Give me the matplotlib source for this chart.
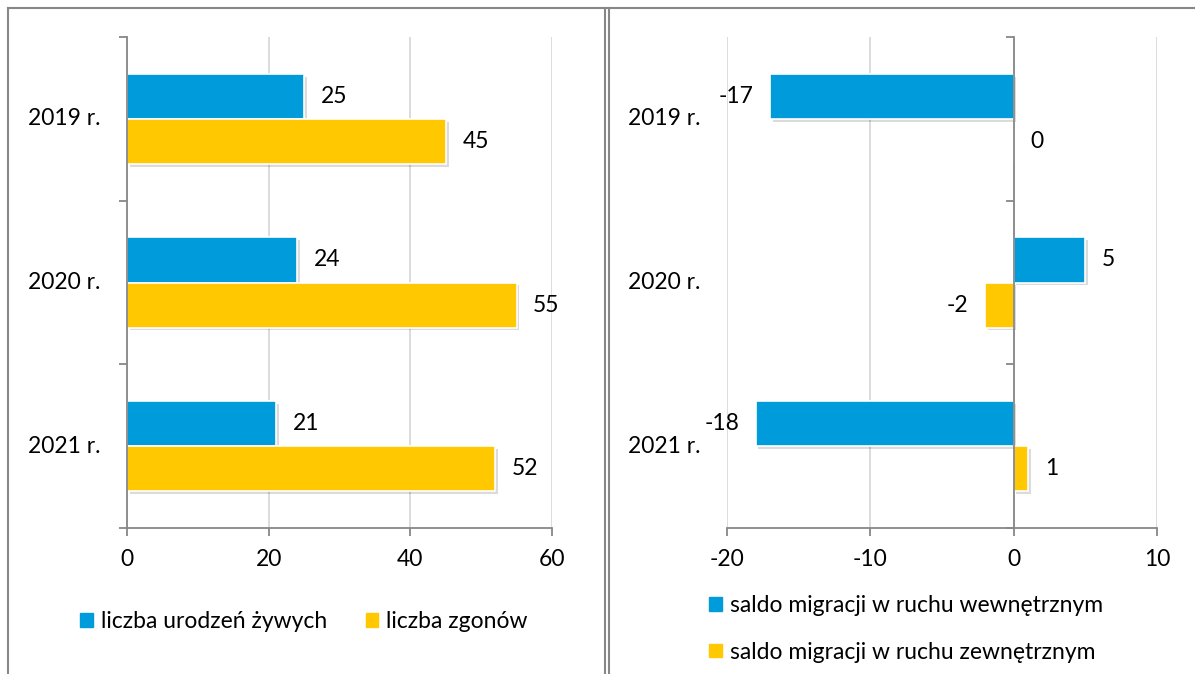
import matplotlib.pyplot as plt
import matplotlib.patheffects as pe
from matplotlib.patches import Patch
from matplotlib.lines import Line2D
from matplotlib.transforms import blended_transform_factory, offset_copy

plt.rcParams.update({
    "font.family": ["Lato", "DejaVu Sans"],
    "font.size": 16.5,
})

years = ["2019 r.", "2020 r.", "2021 r."]
births = [25, 24, 21]
deaths = [45, 55, 52]
mig_internal = [-17, 5, -18]
mig_external = [0, -2, 1]

left_labels = ["liczba urodzeń żywych", "liczba zgonów"]
right_labels = ["saldo migracji w ruchu wewnętrznym",
                "saldo migracji w ruchu zewnętrznym"]

BLUE = "#009BDB"
YELLOW = "#FFC800"
AXIS = "#878787"
GRID = "#D9D9D9"

W, H = 1195, 674
fig = plt.figure(figsize=(W / 100, H / 100), dpi=100)

shadow = [pe.SimplePatchShadow(offset=(2, -2), shadow_rgbFace="#000000", alpha=0.14),
          pe.Normal()]
bar_h = 0.275
pos = list(range(len(years)))


def frame(ax, xlim, xticks):
    ax.set_xlim(*xlim)
    ax.set_ylim(2.5, -0.5)
    ax.set_xticks(xticks)
    ax.set_xticklabels([f"{t:g}" for t in xticks])
    ax.set_yticks([-0.5, 0.5, 1.5, 2.5])
    ax.set_yticklabels([])
    for s in ["top", "right"]:
        ax.spines[s].set_visible(False)
    for s in ["left", "bottom"]:
        ax.spines[s].set_color(AXIS)
        ax.spines[s].set_linewidth(1.3)
    ax.tick_params(axis="both", color=AXIS, width=1.3, length=6, direction="out")
    ax.tick_params(axis="x", pad=9)
    ax.grid(axis="x", color=GRID, linewidth=1.3)
    ax.set_axisbelow(True)


def bars(ax, v1, v2):
    b1 = ax.barh([p - bar_h / 2 for p in pos], v1, height=bar_h, color=BLUE,
                 edgecolor="white", linewidth=1.2, zorder=2)
    b2 = ax.barh([p + bar_h / 2 for p in pos], v2, height=bar_h, color=YELLOW,
                 edgecolor="white", linewidth=1.2, zorder=2)
    for b in list(b1) + list(b2):
        b.set_path_effects(shadow)
    for p, v in zip(pos, v1):
        ax.annotate(f"{v}", (v, p - bar_h / 2), xytext=(12 if v >= 0 else -12, 0),
                    textcoords="offset points", va="center",
                    ha="left" if v >= 0 else "right")
    for p, v in zip(pos, v2):
        ax.annotate(f"{v}", (v, p + bar_h / 2), xytext=(12 if v >= 0 else -12, 0),
                    textcoords="offset points", va="center",
                    ha="left" if v >= 0 else "right")


# left panel
ax1 = fig.add_axes([127 / W, 1 - 528 / H, 425 / W, 491 / H])
frame(ax1, (0, 60), [0, 20, 40, 60])
bars(ax1, births, deaths)
tr1 = blended_transform_factory(ax1.transAxes, ax1.transData)
for p, y in zip(pos, years):
    ax1.text(0, p, y, transform=offset_copy(tr1, fig=fig, x=-27, y=0, units="dots"),
             ha="right", va="center")

# right panel
ax2 = fig.add_axes([727 / W, 1 - 528 / H, 430 / W, 491 / H])
frame(ax2, (-20, 10), [-20, -10, 0, 10])
ax2.spines["left"].set_position(("data", 0))
bars(ax2, mig_internal, mig_external)
tr2 = blended_transform_factory(ax2.transAxes, ax2.transData)
for p, y in zip(pos, years):
    ax2.text(0, p, y, transform=offset_copy(tr2, fig=fig, x=-27, y=0, units="dots"),
             ha="right", va="center")

# legends
fig.legend([Patch(color=BLUE), Patch(color=YELLOW)], left_labels,
           loc="center left", bbox_to_anchor=(80 / W, 1 - 622 / H), ncol=2,
           frameon=False, handlelength=0.55, handleheight=0.55,
           handletextpad=0.35, columnspacing=1.7, borderpad=0, borderaxespad=0)
fig.legend([Patch(color=BLUE), Patch(color=YELLOW)], right_labels,
           loc="center left", bbox_to_anchor=(709 / W, 1 - 629 / H), ncol=1,
           frameon=False, handlelength=0.55, handleheight=0.55,
           handletextpad=0.35, labelspacing=1.1, borderpad=0, borderaxespad=0)

# outer frame
for x in [8, 605, 609]:
    fig.add_artist(Line2D([x / W, x / W], [0, 1 - 8 / H], color=AXIS, lw=1.5))
fig.add_artist(Line2D([8 / W, 1], [1 - 8 / H, 1 - 8 / H], color=AXIS, lw=1.5))

fig.savefig("out.png", dpi=100)
